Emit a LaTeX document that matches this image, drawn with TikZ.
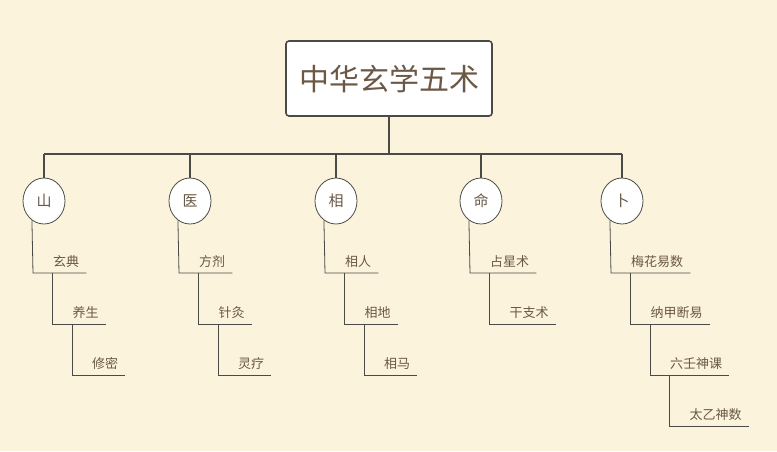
\documentclass[tikz,border=0pt]{standalone}
\usepackage{fontspec}
\usetikzlibrary{shapes.geometric}
\setmainfont{Noto Sans CJK SC}
\definecolor{paper}{HTML}{FBF3DC}
\definecolor{ink}{HTML}{4A4A46}
\definecolor{txt}{HTML}{6B5846}

\begin{document}
\begin{tikzpicture}[x=1pt,y=-1pt,
  root/.style={draw=ink, line width=1.6pt, fill=white, rounded corners=3pt, minimum width=206pt, minimum height=75pt, font=\fontsize{30}{32}\selectfont, text=txt},
  branch/.style={draw=ink, line width=0.8pt, fill=white, ellipse, minimum width=42pt, minimum height=46pt, inner sep=0pt, font=\fontsize{15}{16}\selectfont, text=txt},
  item/.style={inner sep=0pt, anchor=base west, font=\fontsize{13}{14}\selectfont, text=txt},
  trunk/.style={draw=ink, line width=2pt},
  twig/.style={draw=ink, line width=0.8pt}]
  \fill[paper] (0,0) rectangle (777,451);
  \node[root] (root) at (389,78.5) {中华玄学五术};
  \coordinate (bar) at (389,154);
  \draw[trunk] (root.south) -- (bar);
  \foreach \cx/\nm/\lab/\items in {44/shan/山/{玄典,养生,修密},190/yi/医/{方剂,针灸,灵疗},336/xiang/相/{相人,相地,相马},481/ming/命/{占星术,干支术},622/bu/卜/{梅花易数,纳甲断易,六壬神课,太乙神数}} {
    \node[branch] (\nm) at (\cx,201) {\lab};
    \draw[trunk] (\nm.north) -- (\nm.north |- bar);
    \coordinate (\nm-top) at (\nm.238);
    \foreach \it [count=\k] in \items {
      \pgfmathsetmacro\lx{\cx-11+19.5*(\k-1)}
      \pgfmathsetmacro\ly{273+51*(\k-1)}
      \coordinate (\nm-\k-c) at (\lx,\ly);
      \node[item] (\nm-\k) at (\lx+20,\ly-7) {\it};
      \draw[twig] (\nm-top) -- (\nm-\k-c) -- ([xshift=7pt]\nm-\k.east |- \nm-\k-c);
      \coordinate (\nm-top) at ([xshift=19.5pt]\nm-\k-c);
    }
  }
  \draw[trunk] (shan.north |- bar) -- (bu.north |- bar);
\end{tikzpicture}
\end{document}
